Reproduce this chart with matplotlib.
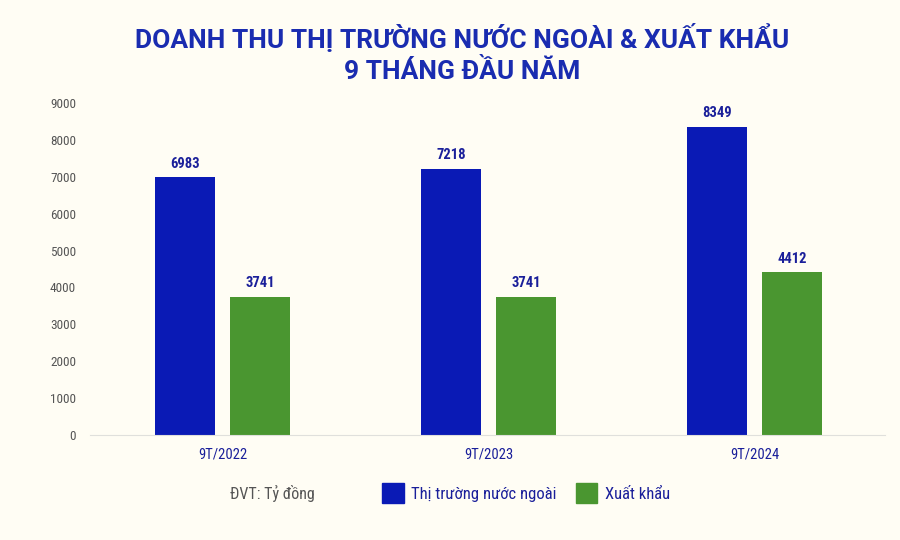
import numpy as np
import matplotlib.pyplot as plt
from matplotlib.patches import Patch

categories = ['9T/2022', '9T/2023', '9T/2024']
nuoc_ngoai = [6983, 7218, 8349]
xuat_khau = [3741, 3741, 4412]
yticks = [0, 1000, 2000, 3000, 4000, 5000, 6000, 7000, 8000, 9000]

bg = '#fffdf4'
blue = '#0a1ab5'
green = '#4a9630'
title_col = '#1a2cb0'

plt.rcParams['font.family'] = ['Roboto Condensed', 'DejaVu Sans']

fig = plt.figure(figsize=(9, 5.4), dpi=100, facecolor=bg)
ax = fig.add_axes([0.1, 0.1944, 0.883, 0.615], facecolor=bg)

x = np.arange(len(categories))
w = 0.226
off = 0.141
b1 = ax.bar(x - off, nuoc_ngoai, w, color=blue)
b2 = ax.bar(x + off, xuat_khau, w, color=green)

for bars in (b1, b2):
    for b in bars:
        ax.text(b.get_x() + b.get_width() / 2, b.get_height() + 180, str(int(b.get_height())),
                ha='center', va='bottom', fontsize=10.5, color='#1a1f9a', fontweight='bold')

ax.set_xlim(-0.5, 2.49)
ax.set_ylim(0, 9000)
ax.set_yticks(yticks)
ax.set_yticklabels([str(t) for t in yticks], fontsize=9.5, color='#555555')
ax.set_xticks(x)
ax.set_xticklabels(categories, fontsize=10.5, color='#1a1f9a')
ax.tick_params(axis='both', length=0)
ax.tick_params(axis='y', pad=10)
ax.tick_params(axis='x', pad=9)
for s in ['top', 'right', 'left']:
    ax.spines[s].set_visible(False)
ax.spines['bottom'].set_color('#e0e0dc')

tfam = ['Roboto', 'DejaVu Sans']
fig.text(0.513, 0.930, 'DOANH THU THỊ TRƯỜNG NƯỚC NGOÀI & XUẤT KHẨU', ha='center', va='center',
         fontsize=19, fontweight='bold', color=title_col, family=tfam)
fig.text(0.513, 0.867, '9 THÁNG ĐẦU NĂM', ha='center', va='center',
         fontsize=19, fontweight='bold', color=title_col, family=tfam)

fig.text(0.255, 0.087, 'ĐVT: Tỷ đồng', fontsize=11.5, color='#555555', va='center')

handles = [Patch(color=blue, label='Thị trường nước ngoài'), Patch(color=green, label='Xuất khẩu')]
leg = fig.legend(handles=handles, loc='center left', bbox_to_anchor=(0.4244, 0.087), ncol=2,
                 frameon=False, fontsize=12, handlelength=1.3, handleheight=1.5,
                 handletextpad=0.45, columnspacing=1.15, borderpad=0, borderaxespad=0)
for t in leg.get_texts():
    t.set_color('#1a1f9a')

fig.savefig('out.png', dpi=100, facecolor=bg)
